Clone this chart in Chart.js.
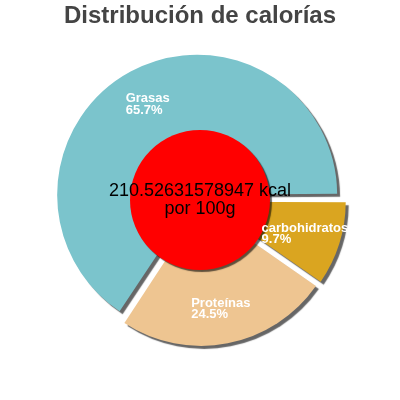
<!DOCTYPE html>
<html>
<head>
<meta charset="utf-8">
<script src="https://cdn.jsdelivr.net/npm/chart.js@4/dist/chart.umd.min.js"></script>
<style>
html, body { margin: 0; padding: 0; background: #fff; }
#wrap { width: 400px; height: 400px; }
</style>
</head>
<body>
<div id="wrap"><canvas id="chart"></canvas></div>
<script>
// data (values are % of calories)
var labels = ["carbohidratos", "Proteínas", "Grasas"];
var values = [9.7, 24.5, 65.7];
var colors = ["#daa520", "#eec591", "#7bc4cc"];
var centerText = ["210.52631578947 kcal", "por 100g"];
var titleText = "Distribución de calorías";

var FONT = "'Liberation Sans', Arial, sans-serif";
var RADIUS = 140;
var SLICE_OFFSET = 24; // chart.js moves the arc by offset/4

// chart.js also grows the radius of wide slices by the offset; undo that
var keepRadius = {
  id: 'keepRadius',
  afterDatasetUpdate: function(chart, args) {
    args.meta.data.forEach(function(arc) {
      var off = (arc.options.offset || 0) / 4;
      var circ = arc.endAngle - arc.startAngle;
      var fix = 1 - Math.sin(Math.min(Math.PI, circ));
      arc.outerRadius = RADIUS - off * fix;
    });
  }
};

// shadow under slices
var shadowPlugin = {
  id: 'shadow',
  beforeDatasetsDraw: function(chart) {
    var ctx = chart.ctx;
    ctx.save();
    ctx.shadowColor = 'rgba(0,0,0,0.6)';
    ctx.shadowOffsetX = 3;
    ctx.shadowOffsetY = 3;
    ctx.shadowBlur = 1;
  },
  afterDatasetsDraw: function(chart) {
    chart.ctx.restore();
  }
};

// red disc in the middle, the slice labels and the energy text
var labelPlugin = {
  id: 'labels',
  afterDatasetsDraw: function(chart) {
    var ctx = chart.ctx;
    var meta = chart.getDatasetMeta(0);
    var cx = meta.data[0].x, cy = meta.data[0].y;

    ctx.save();
    ctx.shadowColor = 'rgba(0,0,0,0.6)';
    ctx.shadowOffsetX = 2;
    ctx.shadowOffsetY = 2;
    ctx.shadowBlur = 1;
    ctx.fillStyle = '#ff0000';
    ctx.beginPath();
    ctx.arc(cx, cy, RADIUS / 2, 0, Math.PI * 2);
    ctx.fill();
    ctx.restore();

    ctx.save();
    ctx.font = 'bold 13px ' + FONT;
    ctx.fillStyle = '#ffffff';
    ctx.textAlign = 'left';
    ctx.textBaseline = 'alphabetic';
    meta.data.forEach(function(arc, i) {
      var mid = (arc.startAngle + arc.endAngle) / 2;
      var off = (arc.options.offset || 0) / 4;
      var r = off + 104;
      var lx = cx + Math.cos(mid) * r;
      var ly = cy + Math.sin(mid) * r;
      var lines = [labels[i], values[i].toFixed(1) + '%'];
      var w = Math.max(ctx.measureText(lines[0]).width, ctx.measureText(lines[1]).width);
      var x0 = lx - w / 2;
      ctx.fillText(lines[0], x0, ly - 1.2);
      ctx.fillText(lines[1], x0, ly + 10.4);
    });
    ctx.restore();

    ctx.save();
    ctx.font = '18px ' + FONT;
    ctx.fillStyle = '#000000';
    ctx.textAlign = 'center';
    ctx.textBaseline = 'alphabetic';
    ctx.fillText(centerText[0], cx, cy - 4);
    ctx.fillText(centerText[1], cx, cy + 14.3);
    ctx.restore();
  }
};

new Chart(document.getElementById('chart'), {
  type: 'pie',
  data: {
    labels: labels,
    datasets: [{
      data: values,
      backgroundColor: colors,
      borderWidth: 0,
      offset: SLICE_OFFSET
    }]
  },
  options: {
    responsive: true,
    maintainAspectRatio: false,
    animation: false,
    rotation: 90,
    radius: RADIUS,
    layout: { padding: { top: 0, bottom: 40.8, left: 0, right: 0 } },
    plugins: {
      legend: { display: false },
      tooltip: { enabled: false },
      title: {
        display: true,
        text: titleText,
        color: '#444444',
        font: { family: FONT, size: 24, weight: 'bold', lineHeight: 1.2 },
        padding: { top: 2, bottom: 10 }
      }
    }
  },
  plugins: [keepRadius, shadowPlugin, labelPlugin]
});
</script>
</body>
</html>
